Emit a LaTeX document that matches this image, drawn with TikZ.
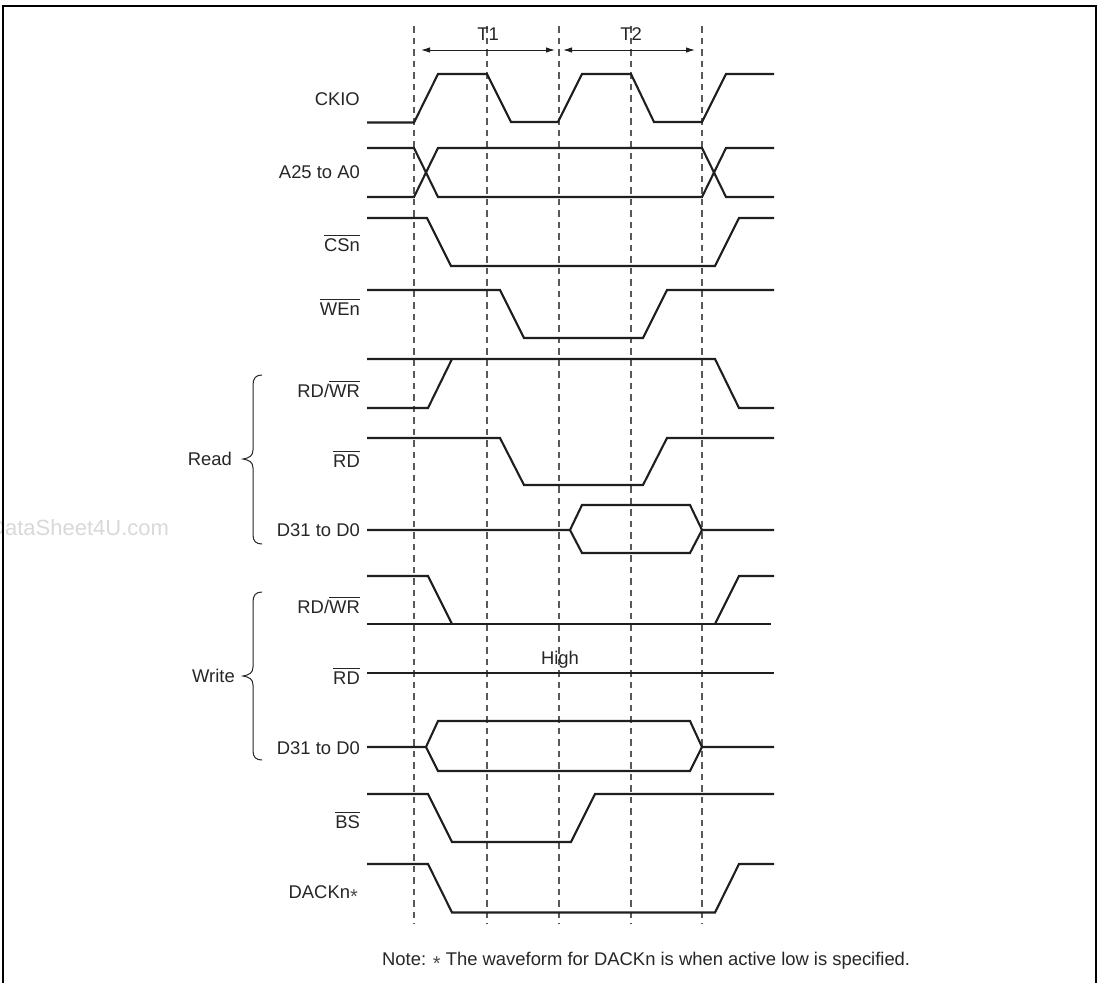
\documentclass[tikz,border=0pt]{standalone}
\usepackage{fontspec}
\setmainfont{Liberation Sans}
\usetikzlibrary{arrows.meta}
\newcommand{\ovl}[1]{\leavevmode\vbox{\hrule height 0.8pt\kern 2.5pt\hbox{#1}}}
\newcommand{\lowstar}{{\fontsize{20}{22}\selectfont\color{black!70}\raisebox{-5.5pt}{*}}}
\tikzset{
  wave/.style={draw=black!88,line width=2.1pt,line join=miter},
  guide/.style={draw=black!65,line width=1.1pt,dash pattern=on 6.5pt off 5pt},
  span/.style={draw=black!88,line width=1pt,{Latex[length=9pt,width=5.5pt]}-{Latex[length=9pt,width=5.5pt]}},
  curly/.style={draw=black!85,line width=1pt},
  sig/.style={anchor=base east,inner sep=0pt,font=\fontsize{18.4}{21}\selectfont,text=black!85},
  tag/.style={anchor=base,inner sep=0pt,font=\fontsize{18.4}{21}\selectfont,text=black!85},
  frameline/.style={draw=black,line width=2.4pt}
}
\begin{document}
\begin{tikzpicture}[x=1pt,y=-1pt]
\useasboundingbox (0,0) rectangle (1100,983);
\fill[white] (0,0) rectangle (1100,983);
% watermark
\node[anchor=base west,inner sep=0pt,font=\fontsize{22}{25}\selectfont,text=black!15] (wm) at (-11,535) {DataSheet4U.com};
% frame
\draw[frameline] (3,983) -- (3,6) -- (1096,6) -- (1096,983);
% guides
\foreach \n/\x in {a/414,b/487,c/559,d/631,e/702}{
  \coordinate (\n top) at (\x,26);
  \coordinate (\n bot) at (\x,924);
  \draw[guide] (\n top) -- (\n bot);
}
% spans
\coordinate (t1l) at (421,50); \coordinate (t1r) at (555,50);
\coordinate (t2l) at (563,50); \coordinate (t2r) at (695,50);
\draw[span] (t1l) -- (t1r);
\draw[span] (t2l) -- (t2r);
\node[tag] (T1) at (488,40.5) {T1};
\node[tag] (T2) at (631,40.5) {T2};
% CKIO
\draw[wave] (367,122.5) -- (414,122.5) -- (438,74) -- (487,74) -- (511,122) -- (558,122) -- (582,74) -- (631,74) -- (654,122) -- (702,122) -- (726,74) -- (774,74);
% A25
\draw[wave] (367,148) -- (414,148) -- (438,197) -- (702,197) -- (726,148) -- (774,148);
\draw[wave] (367,197) -- (414,197) -- (438,148) -- (702,148) -- (726,197) -- (774,197);
% CSn
\draw[wave] (367,218) -- (427,218) -- (451,266) -- (715,266) -- (739,218) -- (774,218);
% WEn
\draw[wave] (367,290) -- (500,290) -- (524,338) -- (643,338) -- (667,290) -- (774,290);
% RD/WR read
\draw[wave] (367,359) -- (715,359) -- (739,408) -- (774,408);
\draw[wave] (367,408) -- (428,408) -- (452,359);
% RD read
\draw[wave] (367,438) -- (500,438) -- (524,485) -- (643,485) -- (667,438) -- (774,438);
% D read
\draw[wave] (367,530) -- (570,530) -- (582,505) -- (690,505) -- (702,530) -- (774,530);
\draw[wave] (570,530) -- (582,553) -- (690,553) -- (702,530);
% RD/WR write
\draw[wave] (367,576) -- (428,576) -- (452,624);
\draw[wave] (367,624) -- (771,624);
\draw[wave] (715,624) -- (739,576) -- (774,576);
% RD write
\draw[wave] (367,673) -- (774,673);
% D write
\draw[wave] (367,747) -- (426,747) -- (438,721) -- (690,721) -- (702,747) -- (774,747);
\draw[wave] (426,747) -- (438,771) -- (690,771) -- (702,747);
% BS
\draw[wave] (367,794) -- (428,794) -- (452,842) -- (571,842) -- (595,794) -- (774,794);
% DACK
\draw[wave] (367,864) -- (428,864) -- (452,912.5) -- (715,912.5) -- (739,864) -- (774,864);
% braces
\draw[curly] (262,375) .. controls (256,375) and (253,378) .. (253,385) -- (253,450) .. controls (253,456) and (249,458) .. (243,459) .. controls (249,460) and (253,462) .. (253,468) -- (253,535) .. controls (253,541) and (256,544) .. (262,544);
\draw[curly] (262,592) .. controls (256,592) and (253,595) .. (253,602) -- (253,667) .. controls (253,673) and (249,675) .. (243,676) .. controls (249,677) and (253,679) .. (253,685) -- (253,751) .. controls (253,757) and (256,760) .. (262,760);
% labels
\node[sig] (ckio) at (360,105.5) {CKIO};
\node[sig] (addr) at (360,178) {A25 to A0};
\node[sig] (cs) at (360,251) {\ovl{CSn}};
\node[sig] (we) at (360,315) {\ovl{WEn}};
\node[sig] (rw1) at (360,397) {RD/\ovl{WR}};
\node[sig] (rd1) at (360,467) {\ovl{RD}};
\node[sig] (d1) at (360,536) {D31 to D0};
\node[sig] (rw2) at (360,613) {RD/\ovl{WR}};
\node[sig] (rd2) at (360,684) {\ovl{RD}};
\node[sig] (d2) at (360,754) {D31 to D0};
\node[sig] (bs) at (360,828) {\ovl{BS}};
\node[sig] (dack) at (358,898) {DACKn\lowstar};
\node[sig] (read) at (232,465) {Read};
\node[sig] (write) at (235,682) {Write};
\node[tag] (high) at (560,664) {High};
\node[anchor=base west,inner sep=0pt,font=\fontsize{18.4}{21}\selectfont,text=black!85] (note) at (382,965) {Note: \lowstar\ The waveform for DACKn is when active low is specified.};
\end{tikzpicture}
\end{document}
